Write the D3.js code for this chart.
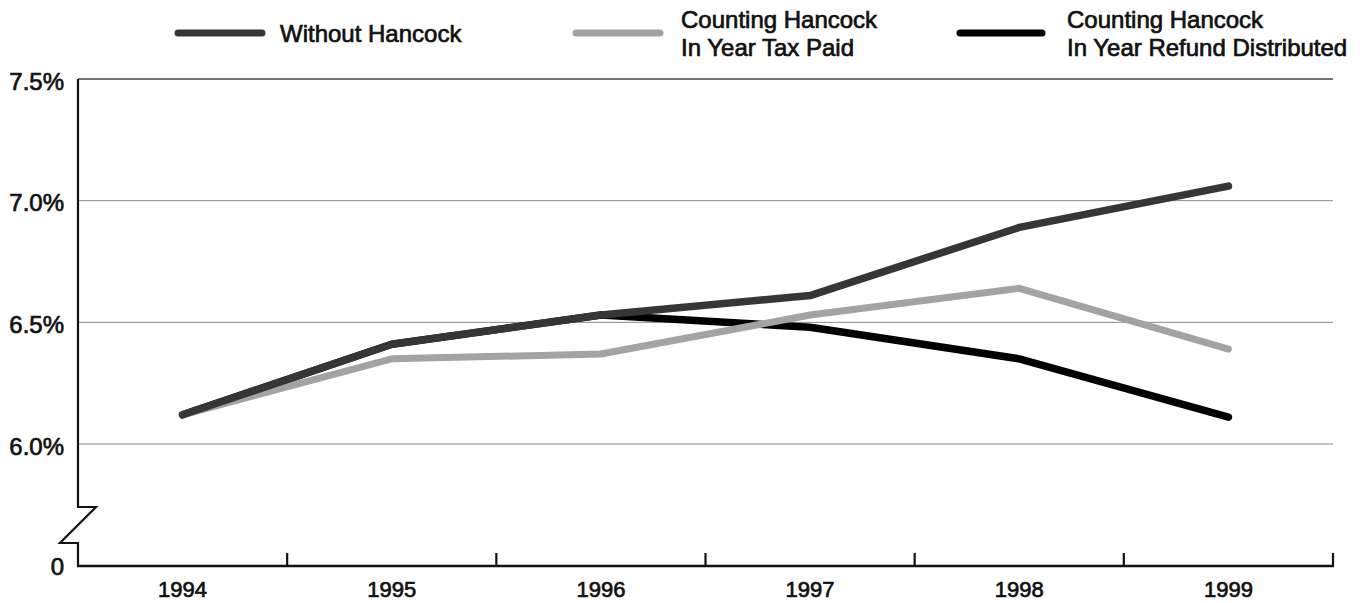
<!DOCTYPE html>
<html>
<head>
<meta charset="utf-8">
<script src="https://cdn.jsdelivr.net/npm/d3@7"></script>
<style>
  body { margin: 0; background: #fff; }
  text { font-family: "Liberation Sans", Arial, sans-serif; font-size: 24px; fill: #111; stroke: #111; stroke-width: 0.7px; }
</style>
</head>
<body>
<div id="plot"></div>
<script>
const years = ["1994", "1995", "1996", "1997", "1998", "1999"];
const withoutHancock = [6.12, 6.41, 6.53, 6.61, 6.89, 7.06];
const taxPaid = [6.12, 6.35, 6.37, 6.53, 6.64, 6.39];
const refundDistributed = [6.12, 6.41, 6.53, 6.48, 6.35, 6.11];
const yTicks = [6.0, 6.5, 7.0, 7.5];

const W = 1367, H = 603;
const plotLeft = 78, plotRight = 1333, plotTop = 79, y6 = 444, base = 566;

const svg = d3.select("#plot")
  .append("svg")
  .attr("width", W)
  .attr("height", H);

const xScale = d3.scaleBand().domain(years).range([plotLeft, plotRight]);
const yScale = d3.scaleLinear().domain([6.0, 7.5]).range([y6, plotTop]);
const xc = d => xScale(d) + xScale.bandwidth() / 2;

// gridlines
svg.selectAll(".grid")
  .data(yTicks)
  .enter()
  .append("line")
  .attr("x1", plotLeft)
  .attr("x2", plotRight)
  .attr("y1", d => yScale(d))
  .attr("y2", d => yScale(d))
  .attr("stroke", d => d === 7.5 ? "#444" : "#8a8a8a")
  .attr("stroke-width", d => d === 7.5 ? 1.3 : 1);

// y labels
svg.selectAll(".ylab")
  .data(yTicks)
  .enter()
  .append("text")
  .attr("x", 64)
  .attr("y", d => yScale(d))
  .attr("dy", "0.45em")
  .attr("text-anchor", "end")
  .text(d => d.toFixed(1) + "%");

svg.append("text")
  .attr("x", 64)
  .attr("y", base)
  .attr("dy", "0.36em")
  .attr("text-anchor", "end")
  .text("0");

// left axis with break
svg.append("path")
  .attr("d", `M${plotLeft},${plotTop} L${plotLeft},507 L96,507 L60,543 L${plotLeft},543 L${plotLeft},${base}`)
  .attr("fill", "none")
  .attr("stroke", "#111")
  .attr("stroke-width", 2.2)
  .attr("stroke-linejoin", "miter");

// baseline
svg.append("line")
  .attr("x1", plotLeft - 1)
  .attr("x2", plotRight + 1)
  .attr("y1", base)
  .attr("y2", base)
  .attr("stroke", "#111")
  .attr("stroke-width", 2.6);

// band boundary ticks
svg.selectAll(".tick")
  .data(years)
  .enter()
  .append("line")
  .attr("x1", d => xScale(d) + xScale.bandwidth())
  .attr("x2", d => xScale(d) + xScale.bandwidth())
  .attr("y1", base)
  .attr("y2", base - 13)
  .attr("stroke", "#111")
  .attr("stroke-width", 2.2);

// x labels
svg.selectAll(".xlab")
  .data(years)
  .enter()
  .append("text")
  .attr("x", d => xc(d))
  .attr("y", 597)
  .attr("text-anchor", "middle")
  .style("font-size", "22px")
  .text(d => d);

const series = [
  { name: "refund", values: refundDistributed, color: "#000", width: 7.5 },
  { name: "tax", values: taxPaid, color: "#a3a3a3", width: 7 },
  { name: "without", values: withoutHancock, color: "#363636", width: 7.5 }
];

const line = d3.line()
  .x((d, i) => xc(years[i]))
  .y(d => yScale(d));

svg.selectAll(".line")
  .data(series)
  .enter()
  .append("path")
  .attr("class", "line")
  .attr("fill", "none")
  .attr("stroke", d => d.color)
  .attr("stroke-width", d => d.width)
  .attr("stroke-linecap", "round")
  .attr("stroke-linejoin", "round")
  .attr("d", d => line(d.values));

// legend
const legend = [
  { color: "#363636", x1: 178, x2: 262, tx: 280, lines: ["Without Hancock"] },
  { color: "#a3a3a3", x1: 576, x2: 660, tx: 681, lines: ["Counting Hancock", "In Year Tax Paid"] },
  { color: "#000", x1: 960, x2: 1042, tx: 1067, lines: ["Counting Hancock", "In Year Refund Distributed"] }
];

legend.forEach(l => {
  svg.append("line")
    .attr("x1", l.x1).attr("x2", l.x2)
    .attr("y1", 33).attr("y2", 33)
    .attr("stroke", l.color)
    .attr("stroke-width", 7)
    .attr("stroke-linecap", "round");
  if (l.lines.length === 1) {
    svg.append("text").attr("x", l.tx).attr("y", 42).text(l.lines[0]);
  } else {
    svg.append("text").attr("x", l.tx).attr("y", 28).text(l.lines[0]);
    svg.append("text").attr("x", l.tx).attr("y", 56).text(l.lines[1]);
  }
});
</script>
</body>
</html>
